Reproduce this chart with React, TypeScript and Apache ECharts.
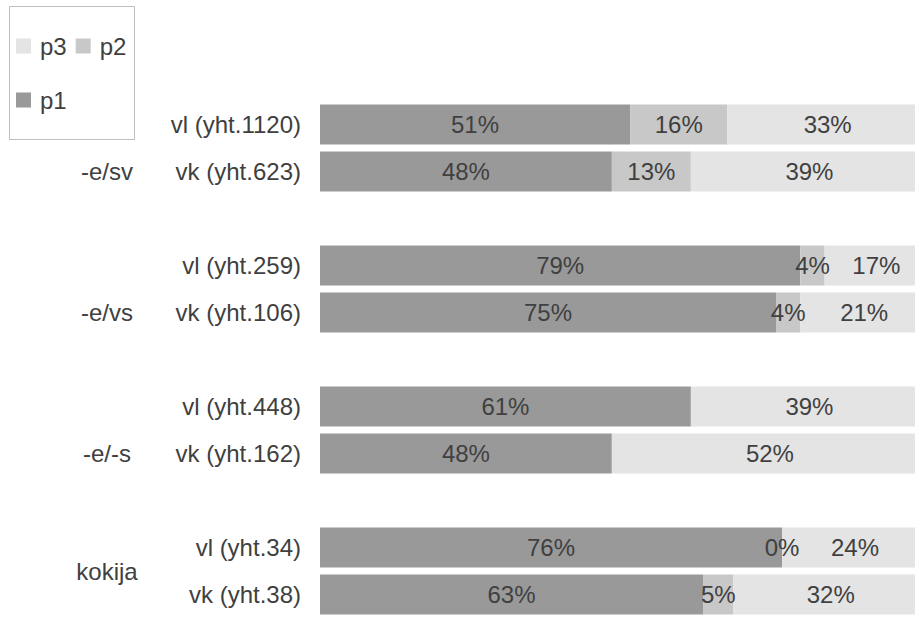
import React, { useEffect, useRef } from "react";
import * as echarts from "echarts";

// Row labels, top to bottom; empty strings are spacer rows between groups
const categories = [
  "vl (yht.1120)", "vk (yht.623)", "",
  "vl (yht.259)", "vk (yht.106)", "",
  "vl (yht.448)", "vk (yht.162)", "",
  "vl (yht.34)", "vk (yht.38)",
];

// Percent shares per row
const p1 = [51, 48, null, 79, 75, null, 61, 48, null, 76, 63];
const p2 = [16, 13, null, 4, 4, null, null, null, null, 0, 5];
const p3 = [33, 39, null, 17, 21, null, 39, 52, null, 24, 32];

// Group labels with the first and last row they span
const groupNames = ["-e/sv", "-e/vs", "-e/-s", "kokija"];
const groupFirstRow = [0, 3, 6, 9];
const groupLastRow = [2, 5, 8, 10];

const FONT = "'Liberation Sans', Arial, sans-serif";
const TEXT = "#404040";
const COLORS = { p1: "#999999", p2: "#c8c8c8", p3: "#e4e4e4" };

export default function App() {
  const ref = useRef<HTMLDivElement>(null);

  useEffect(() => {
    if (!ref.current) return;
    const chart = echarts.init(ref.current, null, { renderer: "svg" });

    const barLabel = {
      show: true,
      position: "inside",
      formatter: "{c}%",
      color: TEXT,
      fontSize: 24,
      fontFamily: FONT,
    };

    const makeSeries = (name: string, data: (number | null)[], color: string) => ({
      name,
      type: "bar",
      stack: "total",
      data,
      barWidth: 40,
      itemStyle: { color },
      label: barLabel,
      emphasis: { disabled: true },
    });

    const legendBase = {
      icon: "rect",
      itemWidth: 15,
      itemHeight: 15,
      itemGap: 9,
      padding: 0,
      orient: "horizontal",
      selectedMode: false,
      textStyle: {
        color: TEXT,
        fontSize: 24,
        fontFamily: FONT,
        padding: [0, 0, 0, 4],
      },
    };

    chart.setOption({
      animation: false,
      textStyle: { fontFamily: FONT },
      grid: { left: 320, top: 101, width: 608, height: 524 },
      legend: [
        { ...legendBase, data: ["p3", "p2"], left: 16, top: 34 },
        { ...legendBase, data: ["p1"], left: 16, top: 88 },
      ],
      xAxis: {
        type: "value",
        min: 0,
        max: 100,
        show: false,
      },
      yAxis: {
        type: "category",
        inverse: true,
        data: categories,
        axisLine: { show: false },
        axisTick: { show: false },
        axisLabel: { color: TEXT, fontSize: 24, fontFamily: FONT, margin: 19 },
      },
      series: [
        makeSeries("p1", p1, COLORS.p1),
        makeSeries("p2", p2, COLORS.p2),
        makeSeries("p3", p3, COLORS.p3),
      ],
    });

    // Outer-level group labels, centred on the rows each group spans
    const groupTexts = groupNames.map((name, i) => {
      const y0 = chart.convertToPixel({ yAxisIndex: 0 }, groupFirstRow[i]) as number;
      const y1 = chart.convertToPixel({ yAxisIndex: 0 }, groupLastRow[i]) as number;
      return {
        type: "text",
        x: 107,
        y: (y0 + y1) / 2,
        style: {
          text: name,
          fill: TEXT,
          font: `24px ${FONT}`,
          align: "center",
          verticalAlign: "middle",
        },
      };
    });

    chart.setOption({
      graphic: [
        {
          type: "rect",
          shape: { x: 9.5, y: 6.5, width: 125, height: 133 },
          style: { fill: "none", stroke: "#bfbfbf", lineWidth: 1 },
          silent: true,
        },
        ...groupTexts,
      ],
    });

    return () => chart.dispose();
  }, []);

  // The plot runs past the right edge of the visible frame, so the chart
  // canvas is wider than the clipped wrapper.
  return (
    <div
      style={{
        position: "fixed",
        left: 0,
        top: 0,
        width: 915,
        height: 618,
        overflow: "hidden",
        background: "#fff",
      }}
    >
      <div ref={ref} style={{ width: 940, height: 618 }} />
    </div>
  );
}
